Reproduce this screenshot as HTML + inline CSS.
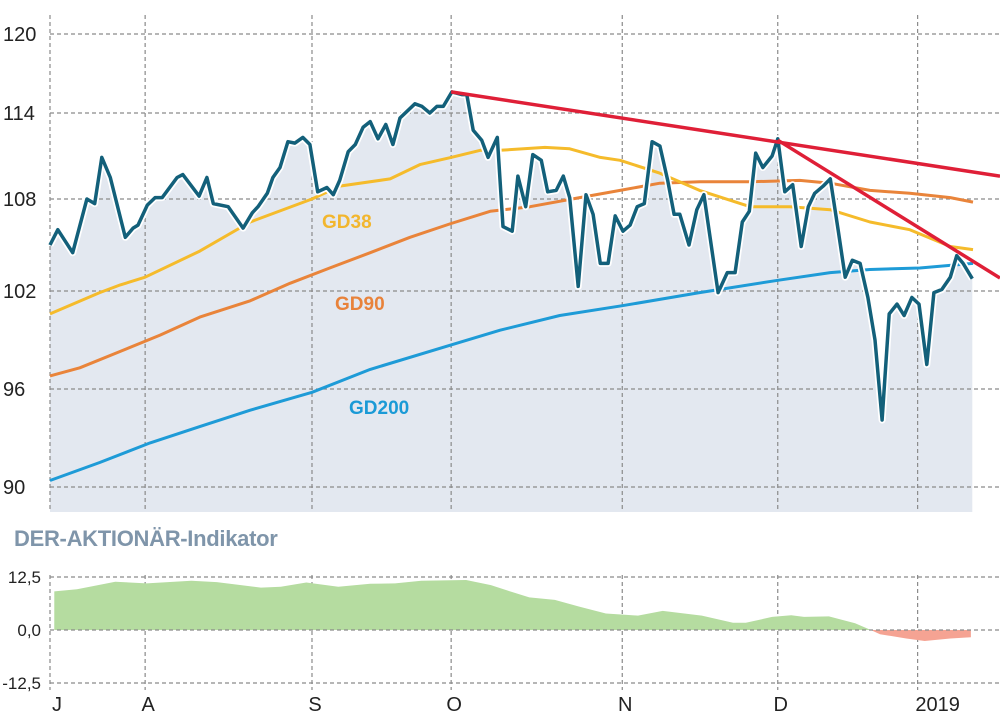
<!DOCTYPE html>
<html><head><meta charset="utf-8"><style>
body{margin:0;background:#fff;width:1000px;height:714px;overflow:hidden;font-family:"Liberation Sans",sans-serif}
svg text{font-family:"Liberation Sans",sans-serif}
</style></head><body>
<svg id="c" width="1000" height="714" viewBox="0 0 1000 714"></svg>
<script>
// ---- data ----
const priceT=[0,1.1,3.2,5.2,6.3,7.3,8.5,10.6,11.7,12.4,13.7,14.8,15.8,17.9,18.7,21.0,22.1,23.0,25.1,27.2,28.5,29.3,30.6,31.4,32.4,33.5,34.5,35.6,36.6,37.7,39.0,39.9,40.8,42.0,43.0,44.1,45.1,46.2,47.3,48.3,49.3,51.4,52.4,53.5,54.5,55.4,56.6,58.0,58.7,59.6,60.8,61.7,63.0,63.8,65.1,65.9,67.0,68.0,69.2,70.1,71.3,72.3,73.2,74.4,75.5,76.5,77.5,78.6,79.6,80.7,81.7,82.7,83.7,84.8,85.9,87.0,87.9,88.7,90.0,91.1,92.1,94.1,95.4,96.5,97.5,98.5,99.4,100.4,101.7,102.5,103.5,104.6,105.8,106.8,107.7,108.9,109.9,111.0,112.0,113.0,114.1,115.2,116.2,117.2,118.2,119.3,120.3,121.4,122.4,123.5,124.5,125.6,126.8,127.7,128.6,129.9];
const priceV=[105.0,106.0,104.5,108,107.7,110.9,109.5,105.5,106.1,106.3,107.6,108.1,108.1,109.5,109.7,108.2,109.5,107.7,107.5,106.1,107.1,107.5,108.4,109.5,110.2,112.0,111.9,112.3,111.8,108.5,108.8,108.3,109.3,111.3,111.8,113.0,113.4,112.2,113.2,111.8,113.65,114.7,114.5,114.0,114.5,114.5,115.6,115.4,115.4,112.8,112.1,110.9,112.3,106.2,105.9,109.6,107.5,111.1,110.7,108.5,108.6,109.6,108.1,102.3,108.3,107.0,103.8,103.8,106.9,105.9,106.3,107.5,107.7,112.0,111.7,109.3,107.0,107.0,105.0,107.3,108.3,101.9,103.2,103.2,106.5,107.2,111.2,110.2,111.0,112.2,108.5,109.0,104.9,107.5,108.4,108.9,109.4,106.0,102.9,104.0,103.8,101.6,99.0,94.1,100.6,101.2,100.5,101.6,101.2,97.5,101.9,102.1,102.9,104.3,103.8,102.8];
const gd38T=[0,7,9.9,13.4,21.1,28.2,36.9,40.8,47.9,52.1,56.5,60.6,63.4,69.7,73.2,77.5,80.3,85.9,91.5,98.6,104.2,109.9,115.5,121.1,126.8,130];
const gd38V=[100.6,101.9,102.4,102.9,104.6,106.5,108,108.9,109.4,110.4,110.9,111.4,111.4,111.6,111.5,110.9,110.7,109.8,108.6,107.5,107.5,107.3,106.5,106.0,104.9,104.7];
const gd90T=[0,4.2,9.9,15.5,21.1,28.2,33.8,39.4,45.1,50.7,56.5,62,67.6,74.6,80.3,85.9,91.5,98.6,105.6,109.9,115.5,121.1,126.8,130];
const gd90V=[96.8,97.3,98.3,99.3,100.4,101.4,102.5,103.5,104.5,105.5,106.4,107.2,107.5,108.1,108.6,109.1,109.2,109.2,109.3,109.1,108.6,108.4,108.1,107.8];
const gd200T=[0,7,14.1,21.1,28.2,36.9,45.1,56.5,63.4,71.8,80.6,91.5,102.5,109.9,115.5,122.5,130];
const gd200V=[90.4,91.5,92.7,93.7,94.7,95.8,97.2,98.7,99.6,100.5,101.1,101.9,102.7,103.2,103.4,103.5,103.8];
const trend1T=[56.5,133.8];
const trend1V=[115.6,109.6];
const trend2T=[102.5,133.8];
const trend2V=[112.1,102.85];
const indT=[0.6,3.8,6.5,9.2,13.6,19.9,23.5,29.7,32.5,36.1,40.6,45.1,48.6,52.3,58.6,62.1,64.8,67.5,71.1,74.6,78.3,82.8,86.3,91.8,96.2,98.0,101.7,104.4,106.2,109.7,113.4,115.6,116.9,120.6,123.2,126.8,129.7];
const indV=[9.1,9.6,10.5,11.4,11.0,11.6,11.3,10.0,10.2,11.2,10.2,10.9,11.0,11.6,11.8,10.6,9.1,7.7,7.1,5.5,3.9,3.4,4.5,3.4,1.7,1.7,3.1,3.5,3.1,3.2,1.6,0,-1.0,-2.0,-2.6,-2.0,-1.7];
const yTicks=[120,114,108,102,96,90];
const yTickPix=[34,113,199,291,389,487];
const indTicks=[12.5,0,-12.5];
const indTickLabels=["12,5","0,0","-12,5"];
const monthT=[0,13.4,36.9,56.5,80.6,102.5,122.2];
const monthLabels=["J","A","S","O","N","D","2019"];

// ---- scales ----
const X=t=>50+t*(923/130);
function Y(v){
  for(let i=0;i<yTicks.length-1;i++){
    const a=yTicks[i],b=yTicks[i+1];
    if(v>=b||i==yTicks.length-2){return yTickPix[i]+(a-v)/(a-b)*(yTickPix[i+1]-yTickPix[i]);}
  }
}
const YI=v=>630-v*(53/12.5);
const NS="http://www.w3.org/2000/svg";
const svg=document.getElementById('c');
function el(tag,attrs,parent){const e=document.createElementNS(NS,tag);for(const k in attrs)e.setAttribute(k,attrs[k]);(parent||svg).appendChild(e);return e;}
const pts=(T,V,fy)=>T.map((t,i)=>X(t).toFixed(1)+','+fy(V[i]).toFixed(1)).join(' ');

let a=el('polygon',{points:X(priceT[0])+',512 '+pts(priceT,priceV,Y)+' '+X(priceT[priceT.length-1])+',512',fill:'#e3e8f0'});



yTicks.forEach((v,i)=>{
  const g=el('line',{x1:50,x2:1000,y1:Y(v),y2:Y(v),stroke:'#8a8a8a','stroke-width':1.2,'stroke-dasharray':'4,3'});
  
  
  const t=el('text',{x:3,y:Y(v)+7,'font-size':20,fill:'#222'});t.textContent=v;
  
  
});
monthT.forEach((m,i)=>{
  const g=el('line',{x1:X(m),x2:X(m),y1:15,y2:512,stroke:'#8a8a8a','stroke-width':1.2,'stroke-dasharray':'4,3'});
  
  
  const g2=el('line',{x1:X(m),x2:X(m),y1:575,y2:690,stroke:'#8a8a8a','stroke-width':1.2,'stroke-dasharray':'4,3'});
  
  
  const t=el('text',{x:X(m)+(i==0?2:i==6?20:3),y:711,'font-size':20,fill:'#222','text-anchor':i==0?'start':'middle'});t.textContent=monthLabels[i];
  
  
});

[[gd200T,gd200V,'#1e9bd7','gd200-line'],[gd90T,gd90V,'#e9843a','gd90-line'],[gd38T,gd38V,'#f5bb2b','gd38-line']].forEach(s=>{
  const l=el('polyline',{points:pts(s[0],s[1],Y),fill:'none',stroke:s[2],'stroke-width':3,'stroke-linejoin':'round'});
  
  
});
let h=el('polyline',{points:pts(priceT,priceV,Y),fill:'none',stroke:'#fff','stroke-width':7,'stroke-linejoin':'round'});


let p=el('polyline',{points:pts(priceT,priceV,Y),fill:'none',stroke:'#13607a','stroke-width':3.5,'stroke-linejoin':'round'});


[[trend1T,trend1V,'trendline-upper'],[trend2T,trend2V,'trendline-steep']].forEach(s=>{
  const l=el('polyline',{points:pts(s[0],s[1],Y),fill:'none',stroke:'#df1f37','stroke-width':3.5});
  
  
});
[['GD38',322,228,'#f2b62e','gd38-label'],['GD90',335,310,'#e8823a','gd90-label'],['GD200',349,414,'#1a9ad6','gd200-label']].forEach(s=>{
  const t=el('text',{x:s[1],y:s[2],'font-size':19,'font-weight':'bold',fill:s[3]});t.textContent=s[0];
  
  
});

let tt=el('text',{x:14,y:546,'font-size':22,'font-weight':'bold',fill:'#7f95aa','letter-spacing':'-0.3'});tt.textContent='DER-AKTIONÄR-Indikator';



const defs=el('defs',{});
const cp1=el('clipPath',{id:'pos'},defs);el('rect',{x:0,y:0,width:1000,height:630},cp1);
const cp2=el('clipPath',{id:'neg'},defs);el('rect',{x:0,y:630,width:1000,height:100},cp2);
const indPts=X(indT[0])+',630 '+pts(indT,indV,YI)+' '+X(indT[indT.length-1])+',630';
let ip=el('polygon',{points:indPts,fill:'#b5dca0','clip-path':'url(#pos)'});


let ineg=el('polygon',{points:indPts,fill:'#f5a393','clip-path':'url(#neg)'});


indTicks.forEach((v,i)=>{
  const g=el('line',{x1:50,x2:1000,y1:YI(v),y2:YI(v),stroke:'#8a8a8a','stroke-width':1.2,'stroke-dasharray':'4,3'});
  
  
  const t=el('text',{x:41,y:YI(v)+6,'font-size':17,fill:'#222','text-anchor':'end'});t.textContent=indTickLabels[i];
  
  
});
</script>
</body></html>
